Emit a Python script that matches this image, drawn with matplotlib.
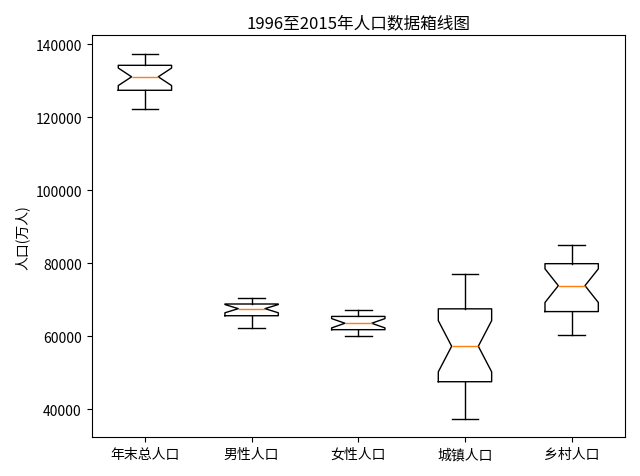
import matplotlib
matplotlib.use("Agg")
import matplotlib.pyplot as plt

plt.rcParams['font.family'] = ['Noto Sans CJK SC', 'DejaVu Sans']
plt.rcParams['axes.unicode_minus'] = False

# 1996-2015 人口数据 (万人)
years = list(range(1996, 2016))
total = [122389, 123626, 124761, 125786, 126743, 127627, 128453, 129227, 129988, 130756,
         131448, 132129, 132802, 133450, 134091, 134735, 135404, 136072, 136782, 137462]
male = [62200, 63131, 63940, 64692, 65437, 65672, 66115, 66556, 66976, 67375,
        67728, 68048, 68357, 68647, 68748, 69068, 69395, 69728, 70079, 70414]
female = [60189, 60495, 60821, 61094, 61306, 61955, 62338, 62671, 63012, 63381,
          63720, 64081, 64445, 64803, 65343, 65667, 66009, 66344, 66703, 67048]
urban = [37304, 39449, 41608, 43748, 45906, 48064, 50212, 52376, 54283, 56212,
         58288, 60633, 62403, 64512, 66978, 69079, 71182, 73111, 74916, 77116]
rural = [85085, 84177, 83153, 82038, 80837, 79563, 78241, 76851, 75705, 74544,
         73160, 71496, 70399, 68938, 67113, 65656, 64222, 62961, 61866, 60346]
labels = ['年末总人口', '男性人口', '女性人口', '城镇人口', '乡村人口']

fig = plt.figure(figsize=(6.4, 4.77), dpi=100)
plt.boxplot([total, male, female, urban, rural], notch=True, tick_labels=labels, meanline=True)
plt.ylabel('人口(万人)')
plt.title('1996至2015年人口数据箱线图')
plt.tight_layout()
plt.savefig('out.png')
